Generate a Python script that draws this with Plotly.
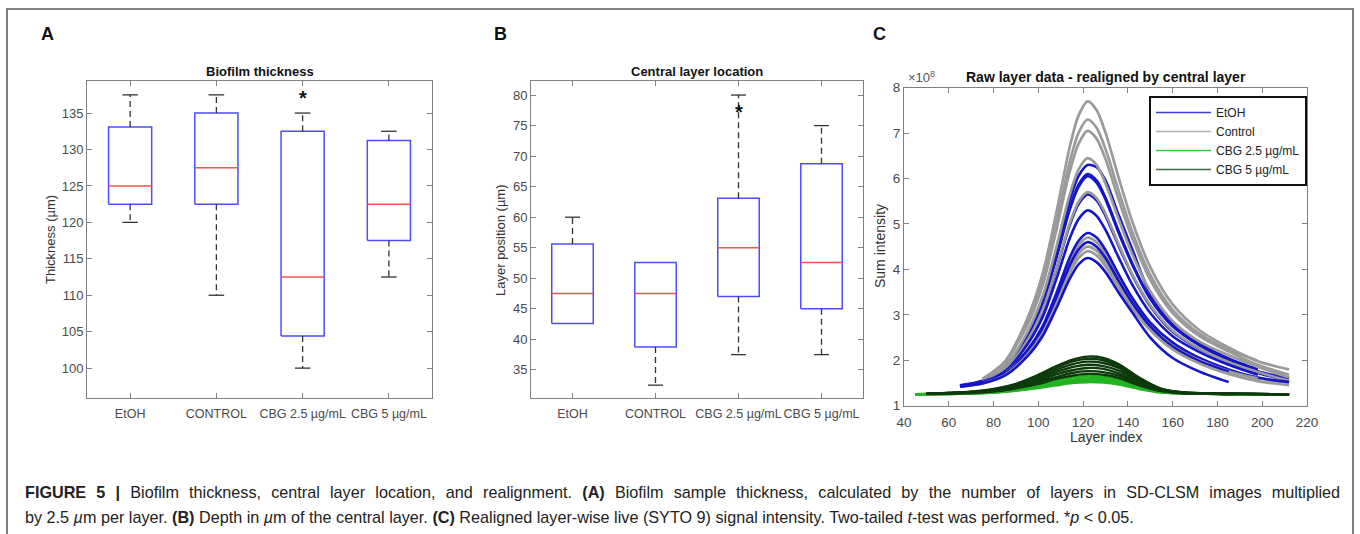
import plotly.graph_objects as go

W, H = 1360, 534

# ---------------- Panel A data ----------------
CATS = ["EtOH", "CONTROL", "CBG 2.5 µg/mL", "CBG 5 µg/mL"]
A_LOW = [120, 110, 100, 112.5]
A_Q1 = [122.5, 122.5, 104.4, 117.5]
A_MED = [125, 127.5, 112.5, 122.5]
A_Q3 = [133.1, 135, 132.5, 131.25]
A_HIGH = [137.5, 137.5, 135, 132.5]
A_TICKS = [100, 105, 110, 115, 120, 125, 130, 135]

# ---------------- Panel B data ----------------
B_LOW = [42.6, 32.5, 37.5, 37.5]
B_Q1 = [42.6, 38.75, 47.0, 45.0]
B_MED = [47.5, 47.5, 55.0, 52.6]
B_Q3 = [55.6, 52.6, 63.1, 68.75]
B_HIGH = [60, 52.6, 80, 75]
B_TICKS = [35, 40, 45, 50, 55, 60, 65, 70, 75, 80]

# ---------------- Panel C data ----------------
X_HI = [65, 75, 85, 95, 102, 108, 114, 118, 122, 126, 130, 136, 142, 150, 160, 172, 185, 198, 212]
CONTROL_CURVES = [
    [None, 1.59, 1.97, 2.91, 3.92, 5.24, 6.69, 7.39, 7.70, 7.51, 7.01, 6.00, 5.05, 4.05, 3.23, 2.66, 2.28, 1.98, 1.80],
    [None, 1.58, 1.93, 2.82, 3.76, 5.00, 6.36, 7.01, 7.30, 7.12, 6.65, 5.71, 4.82, 3.88, 3.11, 2.58, 2.23, 1.99, None],
    [None, None, 1.91, 2.76, 3.66, 4.85, 6.15, 6.77, 7.05, 6.88, 6.43, 5.52, 4.68, 3.77, 3.04, 2.53, 2.19, 1.90, 1.68],
    [None, 1.55, 1.85, 2.61, 3.42, 4.48, 5.64, 6.20, 6.45, 6.30, 5.89, 5.09, 4.33, 3.52, 2.86, 2.41, 2.11, 1.86, 1.62],
    [None, 1.53, 1.79, 2.43, 3.12, 4.02, 5.01, 5.49, 5.70, 5.57, 5.23, 4.54, 3.89, 3.21, 2.65, 2.26, 1.96, 1.74, 1.55],
    [None, None, 1.70, 2.19, 2.72, 3.41, 4.17, 4.54, 4.70, 4.60, 4.34, 3.81, 3.31, 2.79, 2.36, 2.02, 1.78, 1.60, 1.50],
    [None, None, 1.68, 2.14, 2.64, 3.29, 4.00, 4.35, 4.50, 4.41, 4.16, 3.66, 3.20, 2.70, 2.30, 2.00, 1.76, 1.60, None],
    [None, 1.49, 1.67, 2.12, 2.60, 3.23, 3.92, 4.25, 4.40, 4.31, 4.07, 3.59, 3.14, 2.66, 2.24, 1.93, 1.70, 1.54, 1.45],
]
ETOH_CURVES = [
    [1.45, 1.55, 1.84, 2.58, 3.36, 4.39, 5.52, 6.06, 6.30, 6.25, 5.96, 5.18, 4.44, 3.46, 2.82, 2.38, 2.04, 1.80, None],
    [None, 1.54, 1.82, 2.53, 3.28, 4.27, 5.35, 5.87, 6.10, 5.96, 5.58, 4.83, 4.13, 3.37, 2.76, 2.34, 2.02, 1.78, None],
    [1.44, 1.54, 1.82, 2.52, 3.26, 4.24, 5.31, 5.82, 6.05, 5.91, 5.54, 4.79, 4.10, 3.35, 2.75, 2.33, 2.00, 1.76, 1.60],
    [None, 1.53, 1.78, 2.42, 3.10, 3.99, 4.97, 5.44, 5.65, 5.52, 5.18, 4.50, 3.87, 3.19, 2.63, 2.25, 1.95, 1.72, 1.55],
    [1.44, 1.52, 1.75, 2.34, 2.96, 3.78, 4.68, 5.11, 5.30, 5.18, 4.87, 4.25, 3.66, 3.04, 2.53, 2.18, 1.90, 1.68, None],
    [1.42, 1.50, 1.71, 2.22, 2.76, 3.47, 4.26, 4.63, 4.80, 4.70, 4.43, 3.88, 3.37, 2.83, 2.39, 2.05, 1.80, 1.62, 1.52],
    [None, 1.50, 1.69, 2.17, 2.68, 3.35, 4.09, 4.44, 4.60, 4.50, 4.25, 3.74, 3.26, 2.74, 2.30, 1.98, 1.75, None, None],
    [1.42, 1.49, 1.66, 2.08, 2.54, 3.14, 3.79, 4.11, 4.25, 4.16, 3.94, 3.48, 3.05, 2.50, 2.05, 1.75, 1.52, None, None],
]
X_LO = [45, 50, 60, 70, 80, 90, 100, 108, 115, 122, 129, 136, 145, 155, 165, 180, 195, 212]
CBG25_CURVES = [
    [1.25, 1.26, 1.27, 1.28, 1.31, 1.36, 1.46, 1.55, 1.62, 1.65, 1.63, 1.57, 1.43, 1.31, 1.27, 1.26, 1.25, 1.25],
    [1.25, 1.25, 1.26, 1.27, 1.30, 1.35, 1.43, 1.51, 1.57, 1.60, 1.59, 1.53, 1.41, 1.30, 1.27, 1.26, 1.25, 1.25],
    [None, 1.25, 1.26, 1.27, 1.29, 1.34, 1.41, 1.48, 1.54, 1.56, 1.55, 1.50, 1.39, 1.30, 1.27, 1.26, 1.25, 1.25],
    [1.25, 1.25, 1.26, 1.27, 1.29, 1.33, 1.39, 1.45, 1.50, 1.52, 1.51, 1.47, 1.37, 1.29, 1.27, 1.26, 1.25, 1.25],
]
CBG5_CURVES = [
    [None, 1.26, 1.28, 1.31, 1.37, 1.48, 1.68, 1.87, 2.01, 2.08, 2.05, 1.91, 1.62, 1.37, 1.29, 1.27, 1.26, 1.25],
    [None, 1.27, 1.28, 1.30, 1.36, 1.47, 1.66, 1.84, 1.97, 2.03, 2.00, 1.87, 1.60, 1.37, 1.29, 1.27, 1.26, 1.25],
    [None, 1.26, 1.28, 1.30, 1.35, 1.45, 1.62, 1.79, 1.91, 1.97, 1.94, 1.83, 1.57, 1.36, 1.29, 1.26, 1.26, 1.25],
    [None, 1.26, 1.28, 1.30, 1.34, 1.43, 1.59, 1.74, 1.85, 1.90, 1.87, 1.77, 1.54, 1.35, 1.28, 1.26, 1.26, 1.25],
    [None, 1.26, 1.27, 1.29, 1.33, 1.41, 1.55, 1.69, 1.78, 1.83, 1.81, 1.71, 1.51, 1.34, 1.28, 1.26, 1.26, 1.25],
    [None, 1.26, 1.27, 1.29, 1.32, 1.39, 1.52, 1.63, 1.72, 1.76, 1.74, 1.66, 1.48, 1.33, 1.28, 1.26, 1.26, 1.25],
    [None, 1.26, 1.27, 1.28, 1.31, 1.38, 1.48, 1.59, 1.66, 1.70, 1.68, 1.61, 1.45, 1.32, 1.27, 1.26, 1.25, 1.25],
]
C_XTICKS = [40, 60, 80, 100, 120, 140, 160, 180, 200, 220]
C_YTICKS = [1, 2, 3, 4, 5, 6, 7, 8]

# ---------------- styles ----------------
FONT = "Liberation Sans, Arial, sans-serif"
TICKC = "#4a4a4a"
AXC = "#7f7f7f"
BOXC = "#4d4dff"
MEDC = "#ff4d4d"
WHC = "#333333"
COL_ETOH = "#1515c8"
COL_CTRL = "#9a9a9a"
COL_G25 = "#22b422"
COL_G5 = "#0c3a0c"


def px_x(p):
    return p / W


def px_y(p):
    return 1 - p / H


fig = go.Figure()


def add_boxes(xa, ya, low, q1, med, q3, high):
    hw, cw = 0.25, 0.09
    for i in range(len(CATS)):
        c = i + 1
        fig.add_trace(go.Scatter(x=[c - hw, c + hw, c + hw, c - hw, c - hw],
                                 y=[q1[i], q1[i], q3[i], q3[i], q1[i]],
                                 mode="lines", line=dict(color=BOXC, width=1.5),
                                 xaxis=xa, yaxis=ya, showlegend=False, hoverinfo="skip"))
        fig.add_trace(go.Scatter(x=[c - hw, c + hw], y=[med[i], med[i]], mode="lines",
                                 line=dict(color=MEDC, width=1.5),
                                 xaxis=xa, yaxis=ya, showlegend=False, hoverinfo="skip"))
        for q, f in ((q3[i], high[i]), (q1[i], low[i])):
            if abs(f - q) > 1e-9:
                fig.add_trace(go.Scatter(x=[c, c], y=[q, f], mode="lines",
                                         line=dict(color=WHC, width=1.3, dash="6px,4px"),
                                         xaxis=xa, yaxis=ya, showlegend=False, hoverinfo="skip"))
                fig.add_trace(go.Scatter(x=[c - cw, c + cw], y=[f, f], mode="lines",
                                         line=dict(color=WHC, width=1.3),
                                         xaxis=xa, yaxis=ya, showlegend=False, hoverinfo="skip"))


add_boxes("x", "y", A_LOW, A_Q1, A_MED, A_Q3, A_HIGH)
add_boxes("x2", "y2", B_LOW, B_Q1, B_MED, B_Q3, B_HIGH)


def scaled(vals):
    return [None if v is None else v * 1e8 for v in vals]


for k in range(max(len(CONTROL_CURVES), len(ETOH_CURVES))):
    if k < len(CONTROL_CURVES):
        fig.add_trace(go.Scatter(x=X_HI, y=scaled(CONTROL_CURVES[k]), mode="lines",
                                 line=dict(color=COL_CTRL, width=2.7, shape="spline", smoothing=0.8),
                                 xaxis="x3", yaxis="y3", showlegend=False, hoverinfo="skip"))
    if k < len(ETOH_CURVES):
        fig.add_trace(go.Scatter(x=X_HI, y=scaled(ETOH_CURVES[k]), mode="lines",
                                 line=dict(color=COL_ETOH, width=2.6, shape="spline", smoothing=0.8),
                                 xaxis="x3", yaxis="y3", showlegend=False, hoverinfo="skip"))
for cur in CBG25_CURVES:
    fig.add_trace(go.Scatter(x=X_LO, y=scaled(cur), mode="lines",
                             line=dict(color=COL_G25, width=2.6, shape="spline", smoothing=0.8),
                             xaxis="x3", yaxis="y3", showlegend=False, hoverinfo="skip"))
for cur in CBG5_CURVES:
    fig.add_trace(go.Scatter(x=X_LO, y=scaled(cur), mode="lines",
                             line=dict(color=COL_G5, width=2.4, shape="spline", smoothing=0.8),
                             xaxis="x3", yaxis="y3", showlegend=False, hoverinfo="skip"))

for name, col in (("EtOH", "#3a3ae0"), ("Control", "#b0b0b0"), ("CBG 2.5 µg/mL", "#33cc33"), ("CBG 5 µg/mL", "#3d6b3d")):
    fig.add_trace(go.Scatter(x=[None], y=[None], mode="lines", name=name,
                             line=dict(color=col, width=1.3), xaxis="x3", yaxis="y3"))

axis_common = dict(showgrid=False, zeroline=False, showline=True, linecolor=AXC, linewidth=1,
                   mirror="ticks", ticks="inside", ticklen=5, tickcolor=AXC, automargin=False,
                   tickfont=dict(family=FONT, size=13, color=TICKC))
cat_font = dict(family=FONT, size=12.5, color=TICKC)
c_font = dict(family=FONT, size=13.5, color=TICKC)

ydomA = [px_y(398), px_y(81)]
fig.update_layout(
    xaxis=dict(domain=[px_x(87), px_x(432)], range=[0.5, 4.5], tickvals=[1, 2, 3, 4], ticktext=CATS,
               anchor="y", tickangle=0, **{**axis_common, "tickfont": cat_font}),
    yaxis=dict(domain=ydomA, range=[95.9, 139.4], tickvals=A_TICKS, anchor="x", **axis_common),
    xaxis2=dict(domain=[px_x(531), px_x(863)], range=[0.5, 4.5], tickvals=[1, 2, 3, 4], ticktext=CATS,
                anchor="y2", tickangle=0, **{**axis_common, "tickfont": cat_font}),
    yaxis2=dict(domain=ydomA, range=[30.4, 82.3], tickvals=B_TICKS, anchor="x2", **axis_common),
    xaxis3=dict(domain=[px_x(904), px_x(1307)], range=[40, 220], tickvals=C_XTICKS, anchor="y3",
                tickangle=0, **{**axis_common, "tickfont": c_font}),
    yaxis3=dict(domain=[px_y(405.7), px_y(87.7)], range=[1e8, 8e8], tickvals=[v * 1e8 for v in C_YTICKS],
                ticktext=[str(v) for v in C_YTICKS], anchor="x3", **{**axis_common, "tickfont": c_font}),
)
fig.update_xaxes(ticklabelstandoff=4)

fig.update_layout(
    width=W, height=H, margin=dict(l=0, r=0, t=0, b=0, pad=0, autoexpand=False),
    paper_bgcolor="white", plot_bgcolor="white",
    font=dict(family=FONT),
    showlegend=True,
    legend=dict(x=px_x(1149), y=px_y(96), xanchor="left", yanchor="top",
                bgcolor="white", bordercolor="#111111", borderwidth=2,
                font=dict(family=FONT, size=12, color="#222222"),
                itemwidth=55, tracegroupgap=0),
)

ann = []


def text(x, y, s, size, bold=False, color="#111111", angle=0, xanchor="center", yanchor="middle"):
    ann.append(dict(x=px_x(x), y=px_y(y), xref="paper", yref="paper", text=(f"<b>{s}</b>" if bold else s),
                    showarrow=False, textangle=angle, xanchor=xanchor, yanchor=yanchor,
                    font=dict(family=FONT, size=size, color=color)))


text(47, 34, "A", 18, bold=True)
text(500, 34, "B", 18, bold=True)
text(879, 34, "C", 18, bold=True)
text(259.5, 71, "Biofilm thickness", 13, bold=True)
text(697, 71, "Central layer location", 13, bold=True)
text(1106, 77, "Raw layer data - realigned by central layer", 14, bold=True)
text(50, 240, "Thickness (µm)", 13, color="#333333", angle=-90)
text(500, 240, "Layer position (µm)", 13, color="#333333", angle=-90)
text(880, 246, "Sum intensity", 14, color="#333333", angle=-90)
text(1106, 437, "Layer index", 14, color="#333333")
text(906, 77, "×10<sup>8</sup>", 13, color="#555555", xanchor="left")
ann.append(dict(x=3, y=137.1, xref="x", yref="y", text="<b>*</b>", showarrow=False,
                font=dict(family=FONT, size=20, color="#111111"), yanchor="middle"))
ann.append(dict(x=3, y=77.2, xref="x2", yref="y2", text="<b>*</b>", showarrow=False,
                font=dict(family=FONT, size=20, color="#111111"), yanchor="middle"))
cap1 = ("<span style=\"word-spacing:5.7px\"><b>FIGURE 5 |</b> Biofilm thickness, central layer location, and "
        "realignment. <b>(A)</b> Biofilm sample thickness, calculated by the number of layers in SD-CLSM "
        "images multiplied</span>")
cap2 = ("by 2.5 <i>µ</i>m per layer. <b>(B)</b> Depth in <i>µ</i>m of the central layer. <b>(C)</b> Realigned "
        "layer-wise live (SYTO 9) signal intensity. Two-tailed <i>t</i>-test was performed. *<i>p</i> &lt; 0.05.")
text(23, 492, cap1, 16.2, color="#222222", xanchor="left")
text(23, 517, cap2, 16.2, color="#222222", xanchor="left")

fig.update_layout(annotations=ann)
fig.add_shape(type="rect", xref="paper", yref="paper", x0=px_x(7), x1=px_x(1353), y0=px_y(545), y1=px_y(9),
              line=dict(color="#555555", width=1.5), fillcolor="rgba(0,0,0,0)", layer="below")

fig.write_html("out.html", config={"displayModeBar": False},
               post_script="document.body.style.margin='0';document.body.style.overflow='hidden';")
